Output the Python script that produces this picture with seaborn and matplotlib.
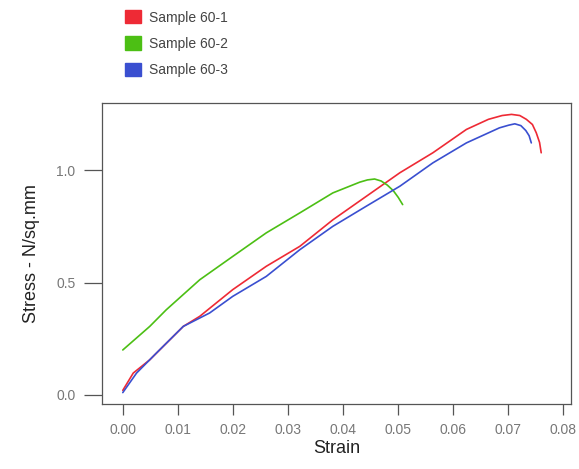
import matplotlib.pyplot as plt
import matplotlib.patches as mpatches
import pandas as pd
import seaborn as sns

# strain / stress readings for each sample
strain_60_1 = [0.0, 0.0019, 0.0049, 0.011, 0.014, 0.020, 0.0261, 0.0322, 0.0382, 0.0443,
               0.0504, 0.0564, 0.0625, 0.0665, 0.0690, 0.0707, 0.0722, 0.0734, 0.0745,
               0.0752, 0.0758, 0.0761]
stress_60_1 = [0.02, 0.097, 0.156, 0.305, 0.35, 0.469, 0.573, 0.662, 0.78, 0.885,
               0.99, 1.079, 1.183, 1.228, 1.245, 1.25, 1.245, 1.228, 1.205,
               1.168, 1.125, 1.079]

strain_60_2 = [0.0, 0.0049, 0.0079, 0.014, 0.020, 0.0261, 0.0322, 0.0382, 0.0431,
               0.0445, 0.0458, 0.0470, 0.0481, 0.0492, 0.0501, 0.0509]
stress_60_2 = [0.2, 0.305, 0.379, 0.513, 0.617, 0.722, 0.811, 0.9, 0.948,
               0.958, 0.962, 0.953, 0.935, 0.91, 0.88, 0.848]

strain_60_3 = [0.0, 0.0025, 0.0061, 0.011, 0.0158, 0.020, 0.0261, 0.0322, 0.0382, 0.0443,
               0.0504, 0.0564, 0.0625, 0.0685, 0.0702, 0.0713, 0.0724, 0.0733, 0.0739,
               0.0743]
stress_60_3 = [0.01, 0.097, 0.186, 0.305, 0.365, 0.439, 0.528, 0.647, 0.751, 0.841,
               0.93, 1.034, 1.123, 1.19, 1.202, 1.208, 1.2, 1.178, 1.155,
               1.123]

samples = ['Sample 60-1', 'Sample 60-2', 'Sample 60-3']
colors = ['#ee2a35', '#4cbf14', '#3a4fd0']

frames = []
for name, xs, ys in zip(samples,
                        [strain_60_1, strain_60_2, strain_60_3],
                        [stress_60_1, stress_60_2, stress_60_3]):
    frames.append(pd.DataFrame({'Strain': xs, 'Stress': ys, 'Sample': name}))
data = pd.concat(frames, ignore_index=True)

sns.set_style('white')
plt.rcParams['font.family'] = ['Liberation Sans', 'DejaVu Sans']

fig = plt.figure(figsize=(5.79, 4.69), dpi=100)
ax = fig.add_axes([0.176, 0.139, 0.810, 0.641])

sns.lineplot(data=data, x='Strain', y='Stress', hue='Sample', palette=colors,
             sort=False, estimator=None, linewidth=1.2, legend=False, ax=ax)

ax.set_xlim(-0.0038, 0.0815)
ax.set_ylim(-0.04, 1.30)
ax.set_xticks([0.0, 0.01, 0.02, 0.03, 0.04, 0.05, 0.06, 0.07, 0.08])
ax.set_xticklabels(['0.00', '0.01', '0.02', '0.03', '0.04', '0.05', '0.06', '0.07', '0.08'])
ax.set_yticks([0.0, 0.5, 1.0])
ax.set_yticklabels(['0.0', '0.5', '1.0'])

for s in ax.spines.values():
    s.set_color('#555555')
    s.set_linewidth(0.9)
ax.tick_params(axis='x', length=8, width=0.9, color='#555555', labelcolor='#777777',
               labelsize=10, direction='out', bottom=True, pad=6)
ax.tick_params(axis='y', length=13, width=0.9, color='#555555', labelcolor='#777777',
               labelsize=10, direction='out', left=True, pad=6)

ax.set_xlabel('Strain', fontsize=13, color='#222222', labelpad=2)
ax.set_ylabel('Stress - N/sq.mm', fontsize=13, color='#222222', labelpad=12)

handles = [mpatches.Patch(color=c, label=n) for c, n in zip(colors, samples)]
fig.legend(handles=handles, loc='upper left', bbox_to_anchor=(0.195, 1.005),
           frameon=False, fontsize=10, handlelength=1.1, handleheight=1.1,
           handletextpad=0.6, labelspacing=0.85, labelcolor='#444444')

plt.savefig('out.png', dpi=100)
